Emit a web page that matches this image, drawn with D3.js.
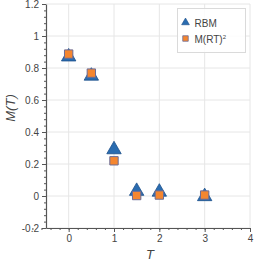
<!DOCTYPE html>
<html>
<head>
<meta charset="utf-8">
<script src="https://cdn.jsdelivr.net/npm/d3@7"></script>
<style>
  body { margin: 0; background: #fff; }
  svg { display: block; font-family: "Liberation Sans", Arial, sans-serif; }
  .axis path, .axis line { stroke: #555; }
  .axis text { fill: #444; font-size: 10px; }
  .grid line { stroke: #e6e6e6; }
</style>
</head>
<body>
<div id="chart"></div>
<script>
// Data
const temps = [0, 0.5, 1, 1.5, 2, 3]
const rbm = [0.87, 0.75, 0.29, 0.03, 0.025, -0.003]
const mrt2 = [0.887, 0.768, 0.22, 0.003, 0.006, 0.006]
const xTicks = [0, 1, 2, 3, 4]
const yTicks = [-0.2, 0, 0.2, 0.4, 0.6, 0.8, 1, 1.2]
const yTickLabels = ['-0.2', '0', '0.2', '0.4', '0.6', '0.8', '1', '1.2']
const seriesNames = ['RBM', 'M(RT)']

const dimensions = { width: 266, height: 266 }

const svg = d3.select('#chart')
  .append('svg')
  .attr('width', dimensions.width)
  .attr('height', dimensions.height)

// Scales
const xScale = d3.scaleLinear().domain([-0.5, 4]).range([46, 250])
const yScale = d3.scaleLinear().domain([-0.2, 1.2]).range([228, 4])

// Grid
const grid = svg.append('g').classed('grid', true)
grid.selectAll('.gx')
  .data(xTicks)
  .join('line')
  .attr('class', 'gx')
  .attr('x1', d => xScale(d)).attr('x2', d => xScale(d))
  .attr('y1', yScale.range()[0]).attr('y2', yScale.range()[1])
grid.selectAll('.gy')
  .data(yTicks)
  .join('line')
  .attr('class', 'gy')
  .attr('x1', xScale.range()[0]).attr('x2', xScale.range()[1])
  .attr('y1', d => yScale(d)).attr('y2', d => yScale(d))

// Axes
const minorX = d3.range(-4, 21).map(i => i * 0.2)
const minorY = d3.range(-5, 31).map(i => i * 0.04)

svg.append('g')
  .classed('axis', true)
  .attr('transform', `translate(0, ${yScale.range()[0]})`)
  .call(d3.axisBottom(xScale).tickValues(minorX).tickSize(2).tickFormat(''))
  .call(g => g.select('.domain').remove())

svg.append('g')
  .classed('axis', true)
  .attr('transform', `translate(0, ${yScale.range()[0]})`)
  .call(d3.axisBottom(xScale).tickValues(xTicks).tickSize(4).tickSizeOuter(0).tickPadding(3).tickFormat(d => d))
  .call(g => g.select('.domain').attr('stroke-width', 1.2))

svg.append('g')
  .classed('axis', true)
  .attr('transform', `translate(${xScale.range()[0]}, 0)`)
  .call(d3.axisLeft(yScale).tickValues(minorY).tickSize(2).tickFormat(''))
  .call(g => g.select('.domain').remove())

svg.append('g')
  .classed('axis', true)
  .attr('transform', `translate(${xScale.range()[0]}, 0)`)
  .call(d3.axisLeft(yScale).tickValues(yTicks).tickSize(4).tickSizeOuter(0).tickPadding(3)
    .tickFormat((d, i) => yTickLabels[i]))
  .call(g => g.select('.domain').attr('stroke-width', 1.2))

// Axis labels
svg.append('text')
  .text('T')
  .attr('x', 150)
  .attr('y', 259)
  .attr('text-anchor', 'middle')
  .attr('font-size', 13)
  .attr('font-style', 'italic')
  .attr('fill', '#444')

svg.append('text')
  .text('M(T)')
  .attr('transform', 'translate(15, 108) rotate(-90)')
  .attr('text-anchor', 'middle')
  .attr('font-size', 13)
  .attr('font-style', 'italic')
  .attr('fill', '#444')

// Markers
const tri = d3.symbol().type(d3.symbolTriangle).size(90)
const sq = d3.symbol().type(d3.symbolSquare).size(70)

svg.append('g')
  .selectAll('path')
  .data(temps)
  .join('path')
  .attr('d', tri)
  .attr('transform', (d, i) => `translate(${xScale(d)}, ${yScale(rbm[i])})`)
  .attr('fill', '#2a6cb0')
  .attr('stroke', '#1c4f8a')
  .attr('stroke-width', 0.8)

svg.append('g')
  .selectAll('path')
  .data(temps)
  .join('path')
  .attr('d', sq)
  .attr('transform', (d, i) => `translate(${xScale(d)}, ${yScale(mrt2[i])})`)
  .attr('fill', '#f5862f')
  .attr('stroke', '#6a6c98')
  .attr('stroke-width', 1)

// Legend
const legend = svg.append('g').attr('transform', 'translate(177.5, 8.5)')
legend.append('rect')
  .attr('width', 68).attr('height', 44)
  .attr('fill', 'rgba(255,255,255,0.85)')
  .attr('stroke', '#dadada')

legend.append('path')
  .attr('d', d3.symbol().type(d3.symbolTriangle).size(26))
  .attr('transform', 'translate(8, 14)')
  .attr('fill', '#2a6cb0')
  .attr('stroke', '#1c4f8a')
  .attr('stroke-width', 0.6)

legend.append('path')
  .attr('d', d3.symbol().type(d3.symbolSquare).size(30))
  .attr('transform', 'translate(8, 30)')
  .attr('fill', '#f5862f')
  .attr('stroke', '#6a6c98')
  .attr('stroke-width', 0.8)

legend.append('text')
  .text(seriesNames[0])
  .attr('x', 17).attr('y', 18)
  .attr('font-size', 10).attr('fill', '#444')

const t2 = legend.append('text')
  .attr('x', 17).attr('y', 34)
  .attr('font-size', 10).attr('fill', '#444')
t2.append('tspan').text(seriesNames[1])
t2.append('tspan').text('2').attr('font-size', 6).attr('dy', -4)
</script>
</body>
</html>
